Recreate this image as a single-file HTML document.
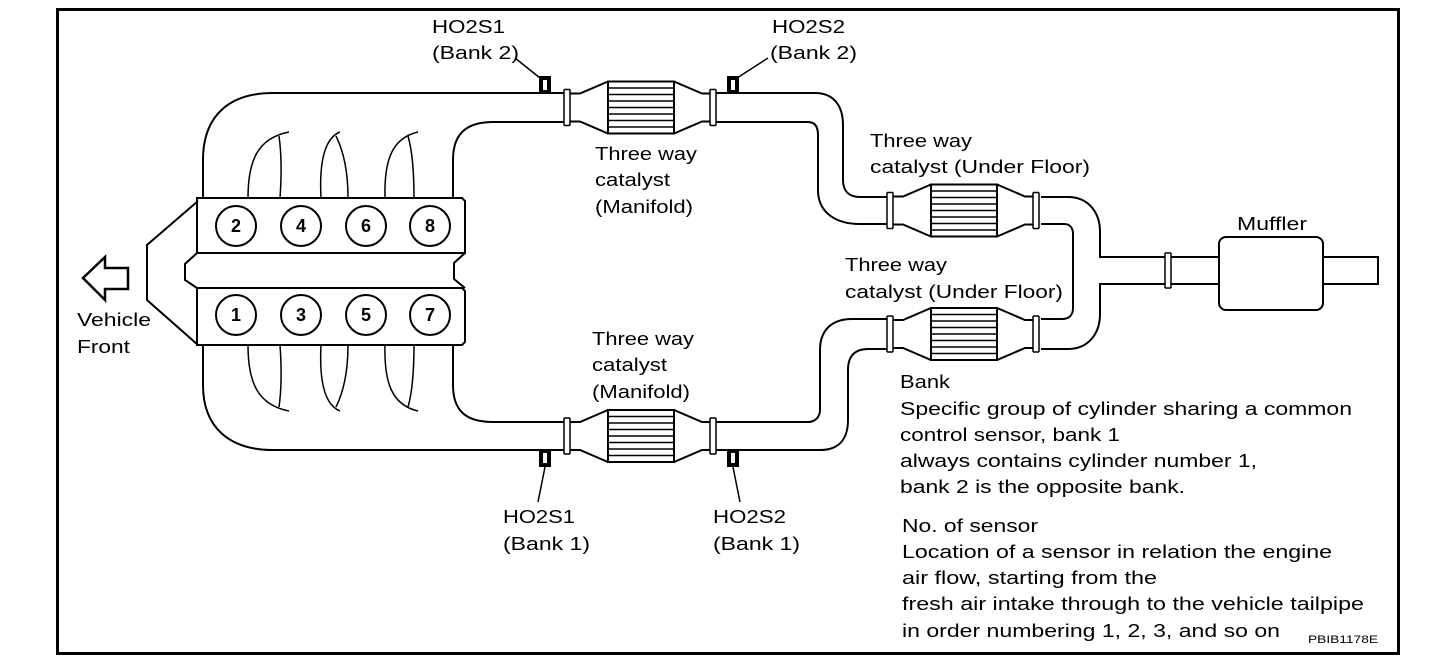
<!DOCTYPE html>
<html><head><meta charset="utf-8"><style>
html,body{margin:0;padding:0;background:#fff}
svg{display:block}
text{font-family:"Liberation Sans",Arial,sans-serif;font-size:18px;fill:#000}
</style></head><body>
<svg width="1456" height="666" viewBox="0 0 1456 666" xmlns="http://www.w3.org/2000/svg">
<defs>
<g id="cat" fill="none" stroke="#000" stroke-width="2">
  <path d="M-3 -18 V18 M3 -18 V18 M-3 -18 H3 M-3 18 H3" stroke-width="1.5"/>
  <path d="M3 -14 H13 L41 -26 H107 L135 -14 H143 M3 14 H13 L41 26 H107 L135 14 H143"/>
  <rect x="41" y="-26" width="66" height="52" fill="#fff"/>
  <path d="M41 -19.5 H107 M41 -13 H107 M41 -6.5 H107 M41 0 H107 M41 6.5 H107 M41 13 H107 M41 19.5 H107" stroke-width="1.5"/>
  <path d="M143 -18 V18 M149 -18 V18 M143 -18 H149 M143 18 H149" stroke-width="1.5"/>
</g>
<g id="sensor">
  <rect x="-6" y="-9" width="12" height="18" fill="#000"/>
  <rect x="-2" y="-5" width="4" height="10" fill="#fff"/>
</g>
</defs>
<rect x="57.5" y="9.5" width="1341" height="644" fill="none" stroke="#000" stroke-width="3"/>

<g fill="none" stroke="#000" stroke-width="2">
<path d="M198 201 L147 245 V300 L198 345"/>
<path d="M197 198 H462 L465 201 V253 H197 Z M197 288 H462 L465 291 V342 L462 345 H197 Z"/>
<path d="M197 253 L185 264 V280 L197 288 M465 253 L454 263 V279 L465 288"/>
<circle cx="236" cy="226" r="20"/><circle cx="301" cy="226" r="20"/><circle cx="366" cy="226" r="20"/><circle cx="430" cy="226" r="20"/>
<circle cx="236" cy="315" r="20"/><circle cx="301" cy="315" r="20"/><circle cx="366" cy="315" r="20"/><circle cx="430" cy="315" r="20"/>
<g stroke-width="1.5">
<path d="M248 198 C248 160 258 138 289 132 M280 198 C282 170 281 150 279 136"/>
<path d="M321 198 C319 160 325 138 340 132 M348 198 C348 170 343 150 336 136"/>
<path d="M385 198 C384 160 392 138 418 132 M414 198 C414 170 412 150 408 136"/>
<path d="M248 345 C248 383 258 405 289 411 M280 345 C282 373 281 393 279 407"/>
<path d="M321 345 C319 383 325 405 340 411 M348 345 C348 373 343 393 336 407"/>
<path d="M385 345 C384 383 392 405 418 411 M414 345 C414 373 412 393 408 407"/>
</g>
<!-- pipes -->
<path d="M203 198 V160 C203 115 230 93 273 93 H564"/>
<path d="M453 198 V160 C453 135 465 122 493 122 H564"/>
<path d="M203 345 V385 C203 428 230 450 273 450 H564"/>
<path d="M453 345 V385 C453 410 465 422 493 422 H564"/>
<path d="M716 93 H815 C833 93 843 105 843 125 V180 C843 192 850 197 860 197 H887"/>
<path d="M716 122 H808 C815 122 818 127 818 135 V190 C818 212 835 224 860 224 H887"/>
<path d="M716 422 H808 C815 422 820 417 820 410 V350 C820 330 832 319 852 319 H887"/>
<path d="M716 450 H820 C838 450 848 440 848 420 V370 C848 356 855 349 868 349 H887"/>
<path d="M1041 197 H1068 C1088 197 1100 212 1100 232 V257 H1165"/>
<path d="M1041 224 H1064 C1070 224 1073 228 1073 234 V308 C1073 315 1069 319 1062 319 H1041"/>
<path d="M1041 349 H1068 C1088 349 1100 334 1100 314 V284 H1165"/>
<path d="M1165 253 V288 M1171 253 V288 M1165 253 H1171 M1165 288 H1171" stroke-width="1.5"/>
<path d="M1171 257 H1219 M1171 284 H1219"/>
<rect x="1219" y="237" width="104" height="73" rx="7"/>
<path d="M1323 257 H1378 V284 H1323"/>
<path d="M83 278 L105 257 V268 H128 V289 H105 V300 Z" stroke-width="2.5"/>
<path d="M515 58 L540 78 M768 58 L737 78 M545 467 L538 502 M733 467 L740 502" stroke-width="1.5"/>
</g>
<use href="#cat" x="567" y="107.5"/>
<use href="#cat" x="567" y="436"/>
<use href="#cat" x="890" y="210.5"/>
<use href="#cat" x="890" y="334"/>
<use href="#sensor" x="545" y="85"/>
<use href="#sensor" x="733" y="85"/>
<use href="#sensor" x="545" y="458"/>
<use href="#sensor" x="733" y="458"/>

<g>
<text x="432" y="33" textLength="73" lengthAdjust="spacingAndGlyphs">HO2S1</text>
<text x="432" y="59" textLength="87" lengthAdjust="spacingAndGlyphs">(Bank 2)</text>
<text x="772" y="33" textLength="73" lengthAdjust="spacingAndGlyphs">HO2S2</text>
<text x="770" y="59" textLength="87" lengthAdjust="spacingAndGlyphs">(Bank 2)</text>
<text x="503" y="523" textLength="72" lengthAdjust="spacingAndGlyphs">HO2S1</text>
<text x="503" y="550" textLength="87" lengthAdjust="spacingAndGlyphs">(Bank 1)</text>
<text x="713" y="523" textLength="73" lengthAdjust="spacingAndGlyphs">HO2S2</text>
<text x="713" y="550" textLength="87" lengthAdjust="spacingAndGlyphs">(Bank 1)</text>
<text x="595" y="160" textLength="102" lengthAdjust="spacingAndGlyphs">Three way</text>
<text x="595" y="186" textLength="75" lengthAdjust="spacingAndGlyphs">catalyst</text>
<text x="595" y="213" textLength="98" lengthAdjust="spacingAndGlyphs">(Manifold)</text>
<text x="592" y="345" textLength="102" lengthAdjust="spacingAndGlyphs">Three way</text>
<text x="592" y="371" textLength="75" lengthAdjust="spacingAndGlyphs">catalyst</text>
<text x="592" y="398" textLength="98" lengthAdjust="spacingAndGlyphs">(Manifold)</text>
<text x="870" y="147" textLength="102" lengthAdjust="spacingAndGlyphs">Three way</text>
<text x="870" y="173" textLength="220" lengthAdjust="spacingAndGlyphs">catalyst (Under Floor)</text>
<text x="845" y="271" textLength="102" lengthAdjust="spacingAndGlyphs">Three way</text>
<text x="845" y="298" textLength="218" lengthAdjust="spacingAndGlyphs">catalyst (Under Floor)</text>
<text x="1237" y="230" textLength="70" lengthAdjust="spacingAndGlyphs">Muffler</text>
<text x="77" y="326" textLength="74" lengthAdjust="spacingAndGlyphs">Vehicle</text>
<text x="77" y="353" textLength="53" lengthAdjust="spacingAndGlyphs">Front</text>
<text x="900" y="388" textLength="50" lengthAdjust="spacingAndGlyphs">Bank</text>
<text x="900" y="415" textLength="452" lengthAdjust="spacingAndGlyphs">Specific group of cylinder sharing a common</text>
<text x="900" y="441" textLength="220" lengthAdjust="spacingAndGlyphs">control sensor, bank 1</text>
<text x="900" y="467" textLength="357" lengthAdjust="spacingAndGlyphs">always contains cylinder number 1,</text>
<text x="900" y="493" textLength="285" lengthAdjust="spacingAndGlyphs">bank 2 is the opposite bank.</text>
<text x="902" y="532" textLength="136" lengthAdjust="spacingAndGlyphs">No. of sensor</text>
<text x="902" y="558" textLength="430" lengthAdjust="spacingAndGlyphs">Location of a sensor in relation the engine</text>
<text x="902" y="584" textLength="255" lengthAdjust="spacingAndGlyphs">air flow, starting from the</text>
<text x="902" y="610" textLength="462" lengthAdjust="spacingAndGlyphs">fresh air intake through to the vehicle tailpipe</text>
<text x="902" y="637" textLength="378" lengthAdjust="spacingAndGlyphs">in order numbering 1, 2, 3, and so on</text>
<text x="1308" y="643" style="font-size:11px" textLength="70" lengthAdjust="spacingAndGlyphs">PBIB1178E</text>
</g>
<g style="font-weight:bold;font-size:17px" text-anchor="middle">
<text x="236" y="232">2</text><text x="301" y="232">4</text><text x="366" y="232">6</text><text x="430" y="232">8</text>
<text x="236" y="321">1</text><text x="301" y="321">3</text><text x="366" y="321">5</text><text x="430" y="321">7</text>
</g>
</svg>
</body></html>
